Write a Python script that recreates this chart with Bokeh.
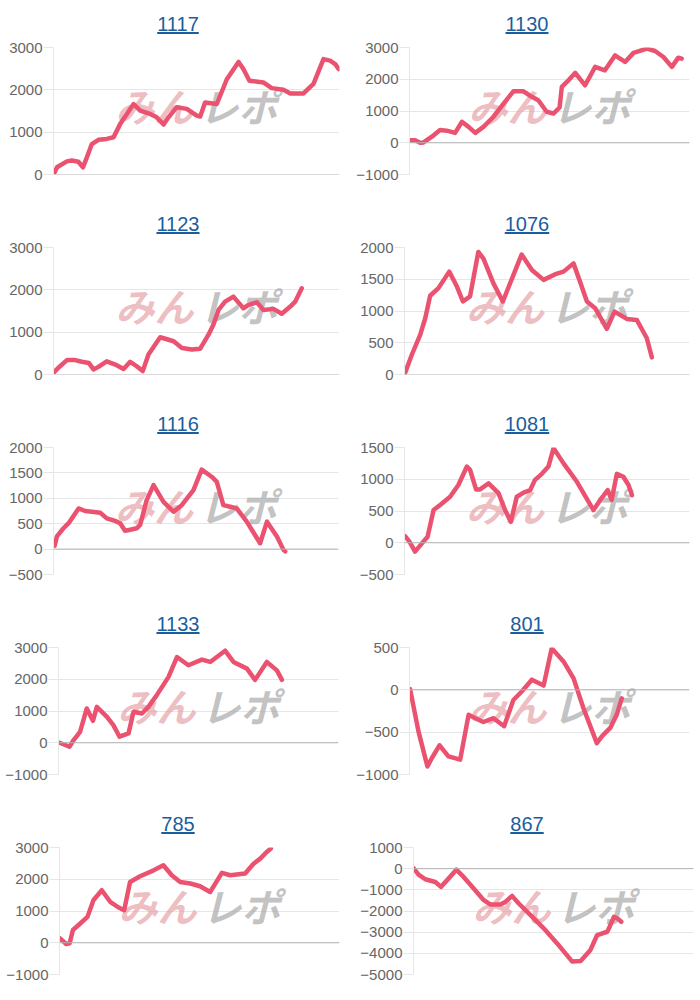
from bokeh.plotting import figure
from bokeh.models import Range1d, FixedTicker, Span, Div
from bokeh.layouts import row, column
from bokeh.core.properties import value
from bokeh.embed import file_html
from bokeh.resources import INLINE

titles = ["1117", "1130", "1123", "1076", "1116", "1081", "1133", "801", "785", "867"]

x1 = [0.4, 1.2, 4.7, 6.4, 8.7, 10.3, 11.7, 13.4, 15.7, 18.6, 21.0, 23.3, 28.0, 30.3, 33.8, 36.1, 38.5, 40.2, 43.1, 46.6, 50.1, 51.3, 53.0, 57.1, 60.6, 64.7, 66.4, 68.5, 73.4, 76.3, 80.4, 82.8, 87.4, 90.9, 94.4, 96.7, 98.5, 99.7]
y1 = [50, 170, 310, 330, 300, 170, 410, 720, 820, 840, 880, 1190, 1665, 1510, 1430, 1350, 1180, 1350, 1590, 1550, 1390, 1370, 1700, 1665, 2250, 2660, 2490, 2215, 2175, 2040, 2000, 1915, 1915, 2140, 2725, 2690, 2610, 2490]

x2 = [0.2, 2.0, 3.8, 5.0, 8.0, 10.9, 13.3, 16.3, 18.7, 21.1, 23.5, 26.4, 30.0, 33.6, 37.1, 40.7, 43.7, 46.0, 49.0, 51.4, 53.6, 54.4, 56.2, 59.2, 62.7, 66.3, 69.8, 73.4, 77.0, 80.0, 84.8, 87.7, 90.7, 93.7, 96.0, 97.2]
y2 = [80, 80, 0, 10, 190, 400, 380, 310, 660, 500, 310, 500, 820, 1235, 1620, 1620, 1445, 1340, 975, 920, 1110, 1760, 1915, 2200, 1810, 2390, 2280, 2750, 2545, 2830, 2965, 2890, 2700, 2390, 2680, 2650]

x3 = [0.3, 1.7, 4.7, 7.6, 9.9, 12.4, 14.0, 15.7, 18.6, 21.6, 24.5, 26.8, 29.1, 31.2, 33.2, 37.3, 42.0, 44.9, 48.4, 51.3, 54.2, 55.9, 57.7, 60.0, 62.9, 66.4, 68.2, 71.1, 73.4, 76.9, 79.8, 82.8, 84.5, 86.8]
y3 = [60, 160, 340, 340, 300, 270, 120, 180, 310, 235, 130, 300, 195, 80, 470, 880, 785, 625, 590, 610, 940, 1175, 1525, 1720, 1840, 1565, 1645, 1705, 1525, 1550, 1435, 1605, 1720, 2035]

x4 = [0.2, 2.6, 5.5, 7.3, 9.0, 11.9, 15.7, 18.4, 20.5, 23.0, 25.9, 27.7, 31.2, 34.5, 38.2, 41.1, 44.7, 48.8, 52.9, 55.8, 59.3, 61.6, 64.0, 66.9, 71.0, 73.7, 78.0, 81.5, 85.0, 86.8]
y4 = [25, 315, 625, 890, 1240, 1360, 1620, 1385, 1150, 1230, 1930, 1825, 1435, 1150, 1565, 1890, 1645, 1490, 1580, 1620, 1750, 1460, 1150, 1045, 720, 990, 875, 860, 575, 270]

x5 = [0.4, 1.2, 3.5, 5.3, 8.8, 11.1, 13.5, 16.4, 18.7, 21.6, 23.4, 25.1, 26.9, 29.2, 30.4, 32.7, 35.1, 38.6, 42.1, 45.0, 49.1, 52.0, 55.6, 57.3, 59.6, 62.0, 64.3, 67.8, 72.5, 74.9, 78.4, 80.7, 81.3]
y5 = [65, 250, 410, 510, 800, 750, 735, 715, 605, 555, 510, 360, 380, 410, 475, 965, 1260, 930, 735, 865, 1160, 1565, 1420, 1325, 865, 835, 800, 540, 115, 540, 250, -15, -45]

x6 = [0.2, 1.8, 3.7, 6.1, 8.1, 10.2, 12.5, 16.0, 18.9, 21.9, 23.0, 25.1, 26.5, 29.5, 33.0, 35.3, 37.3, 39.4, 41.8, 44.1, 45.8, 48.2, 50.5, 52.3, 55.8, 60.5, 66.3, 68.7, 71.3, 72.7, 74.5, 76.8, 78.6, 79.8]
y6 = [105, 15, -140, -10, 95, 515, 595, 725, 910, 1200, 1150, 840, 840, 935, 780, 515, 330, 725, 790, 830, 990, 1085, 1200, 1490, 1250, 960, 515, 675, 830, 675, 1085, 1040, 910, 750]

x7 = [0.4, 2.4, 3.9, 5.4, 7.7, 10.1, 12.3, 13.7, 17.3, 19.6, 21.8, 25.0, 26.8, 29.8, 32.1, 35.1, 39.3, 42.3, 46.4, 51.2, 54.2, 59.5, 62.5, 67.3, 70.2, 74.4, 78.0, 79.8]
y7 = [0, -70, -125, 85, 345, 1080, 690, 1130, 815, 555, 190, 295, 975, 920, 1130, 1500, 2075, 2700, 2440, 2620, 2545, 2900, 2545, 2335, 1980, 2545, 2280, 1980]

x8 = [0.2, 3.2, 6.4, 8.0, 10.7, 13.9, 18.1, 21.1, 23.5, 26.4, 30.0, 33.8, 37.1, 40.1, 43.7, 47.9, 50.8, 55.0, 58.6, 62.1, 66.9, 68.7, 71.7, 74.0, 75.8]
y8 = [10, -490, -905, -805, -655, -785, -825, -295, -335, -380, -335, -430, -120, -20, 120, 50, 490, 335, 135, -215, -630, -550, -450, -295, -100]

x9 = [0.2, 2.4, 3.6, 4.8, 7.4, 10.0, 12.1, 15.1, 18.1, 21.1, 23.1, 25.2, 28.8, 33.6, 37.1, 40.1, 43.1, 46.7, 50.2, 53.8, 58.0, 61.0, 66.3, 69.3, 71.7, 74.0, 75.5]
y9 = [135, -40, -20, 400, 605, 815, 1340, 1655, 1290, 1110, 1025, 1915, 2095, 2280, 2440, 2125, 1915, 1865, 1780, 1600, 2200, 2125, 2180, 2490, 2650, 2860, 2970]

x10 = [0.0, 1.8, 4.2, 7.8, 9.8, 12.5, 15.3, 17.9, 21.5, 25.1, 27.4, 31.0, 32.8, 35.2, 37.6, 41.8, 46.5, 51.3, 56.7, 59.7, 63.2, 65.6, 69.2, 69.8, 71.6, 72.8, 74.2]
y10 = [30, -280, -500, -630, -860, -470, -50, -390, -940, -1490, -1690, -1690, -1570, -1285, -1645, -2195, -2820, -3530, -4390, -4360, -3840, -3135, -2980, -2820, -2270, -2350, -2510]

xs = [x1, x2, x3, x4, x5, x6, x7, x8, x9, x10]
ys = [y1, y2, y3, y4, y5, y6, y7, y8, y9, y10]

# y axis ranges and tick steps per chart
y_lo = [0, -1000, 0, 0, -500, -500, -1000, -1000, -1000, -5000]
y_hi = [3000, 3000, 3000, 2000, 2000, 1500, 3000, 500, 3000, 1000]
y_step = [1000, 1000, 1000, 500, 500, 500, 1000, 500, 1000, 1000]

X_LO, X_HI = 0, 100

# layout (pixels)
CELL_W = 350
left_border = [53, 59, 53, 54, 53, 54, 58, 59, 59, 63]
right_border = [11, 11, 11, 11, 12, 11, 12, 11, 11, 7]
title_pad = [6, 4]

LINE = "#ea5270"
GRID = "#e6e6e6"
TICKTXT = "#666666"


def make_cell(i):
    r = i // 2
    c = i % 2
    fig_h = 164 if r < 4 else 154
    bottom = fig_h - 11 - 127
    lo, hi, st = y_lo[i], y_hi[i], y_step[i]
    ticks = list(range(lo, hi + 1, st))
    p = figure(width=CELL_W, height=fig_h,
               x_range=Range1d(X_LO, X_HI), y_range=Range1d(lo, hi),
               output_backend="svg", toolbar_location=None,
               min_border_left=left_border[i], min_border_right=right_border[i],
               min_border_top=11, min_border_bottom=bottom, margin=(0, 0, 0, 0))
    p.outline_line_color = None
    p.xaxis.visible = False
    p.xgrid.visible = False
    p.yaxis.ticker = FixedTicker(ticks=ticks)
    p.ygrid.ticker = FixedTicker(ticks=ticks)
    p.ygrid.grid_line_color = GRID
    p.yaxis.axis_line_color = GRID
    p.yaxis.major_tick_line_color = GRID
    p.yaxis.major_tick_out = 10
    p.yaxis.major_tick_in = 0
    p.yaxis.minor_tick_line_color = None
    p.yaxis.major_label_standoff = 1
    p.yaxis.major_label_text_font = "Liberation Sans"
    p.yaxis.major_label_text_font_size = "15px"
    p.yaxis.major_label_text_color = TICKTXT

    p.add_layout(Span(location=0, dimension="width", line_color="#b4b4b4", line_width=1))

    xm = (X_LO + X_HI) / 2
    ym = lo + 0.55 * (hi - lo)
    p.text(x=[xm], y=[ym], text=["みん"], text_align="right", text_baseline="middle",
           x_offset=-3, text_font=value("Noto Sans CJK JP"), text_font_size="39px",
           text_font_style="bold italic", text_color="#e39a9f", text_alpha=0.65)
    p.text(x=[xm], y=[ym], text=["レポ"], text_align="left", text_baseline="middle",
           x_offset=3, text_font=value("Noto Sans CJK JP"), text_font_size="39px",
           text_font_style="bold italic", text_color="#a8a8a8", text_alpha=0.7)

    p.line(xs[i], ys[i], line_color=LINE, line_width=4.5, line_join="round", line_cap="round")

    html = ('<div style="width:%dpx;height:36px;box-sizing:border-box;padding-top:13px;'
            'padding-left:%dpx;text-align:center;font-family:\'Liberation Sans\',Arial,sans-serif;'
            'font-size:20px;line-height:22px;margin:0;">'
            '<span style="color:#1b5e9e;text-decoration:underline;">%s</span></div>') % (CELL_W, title_pad[c], titles[i])
    d = Div(text=html, width=CELL_W, height=36, margin=(0, 0, 0, 0))
    return column(d, p, spacing=0, margin=(0, 0, 0, 0))


rows = []
for r in range(5):
    rows.append(row(make_cell(2 * r), make_cell(2 * r + 1), spacing=0, margin=(0, 0, 0, 0)))
layout = column(*rows, spacing=0, margin=(0, 0, 0, 0))

open("out.html", "w").write(file_html(layout, INLINE))
